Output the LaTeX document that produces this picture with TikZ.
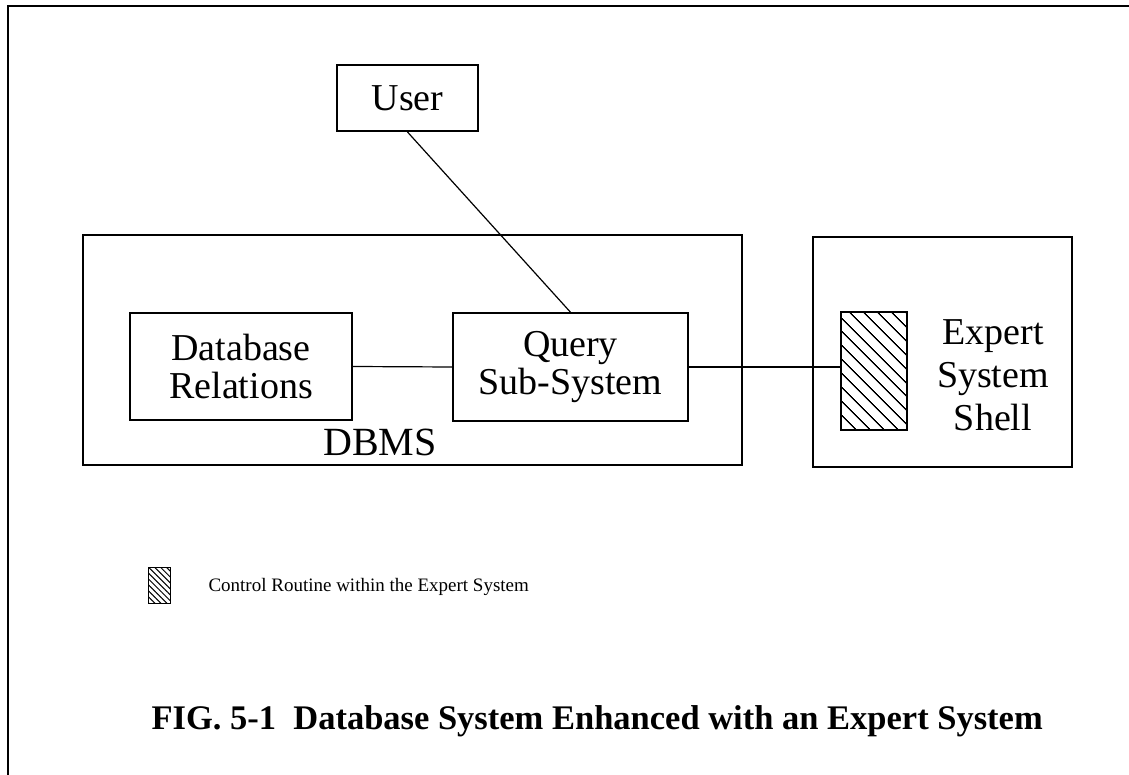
\documentclass[tikz,border=0pt]{standalone}
\usepackage{fontspec}
\setmainfont{Liberation Serif}
\usetikzlibrary{patterns.meta}

\tikzset{
    box/.style={draw, line width=1.5pt, inner sep=0pt, align=center,
        font=\fontsize{38}{38}\selectfont},
    frame/.style={draw, line width=1.3pt, inner sep=0pt},
    hatched/.style={draw, line width=1.5pt, inner sep=0pt,
        pattern={Lines[angle=-45, distance=10.5pt, line width=1.5pt]}},
    smallhatch/.style={draw, line width=1pt, inner sep=0pt,
        pattern={Lines[angle=-45, distance=4.2pt, line width=1pt]}},
    link/.style={line width=1.2pt},
}

\begin{document}
\begin{tikzpicture}[x=1pt, y=-1pt]
        \useasboundingbox (0, 0) rectangle (1129, 775);
        \draw[line width=1.3pt] (1129, 6) -- (8, 6) -- (8, 775);

        \node[frame, minimum width=659, minimum height=230] (dbms) at (412.5, 350) {};
        \node[frame, minimum width=259, minimum height=230] (shell) at (942.5, 352) {};

        \node[box, line width=2pt, minimum width=141, minimum height=66] (user) at (407.5, 98) {User};
        \node[box, minimum width=222, minimum height=107] (relations) at (241, 366.5) {Database\\Relations};
        \node[box, minimum width=235, minimum height=108] (query) at (570.5, 367) {Query\\Sub-System};
        \node[hatched, minimum width=66, minimum height=118] (control) at (874, 371) {};

        \draw[link] (user.south) -- (query.north);
        \draw[link] (relations.east) -- (query.west);
        \draw[link] (query.east) -- (query.east -| control.west);

        \node[font=\fontsize{40}{40}\selectfont, anchor=base] (dbmslabel) at (380, 455) {DBMS};
        \node[font=\fontsize{38}{43}\selectfont, align=center] (shelllabel) at (993, 375) {Expert\\System\\Shell};

        \node[smallhatch, minimum width=22, minimum height=36] (key) at (159, 585) {};
        \node[font=\fontsize{19}{19}\selectfont, anchor=base west] (keylabel) at (205, 591) {Control Routine within the Expert System};

        \node[font=\fontsize{34.5}{34.5}\selectfont\bfseries, anchor=base west] (caption) at (148, 729) {FIG. 5-1\ \ Database System Enhanced with an Expert System};

    \end{tikzpicture}
\end{document}
